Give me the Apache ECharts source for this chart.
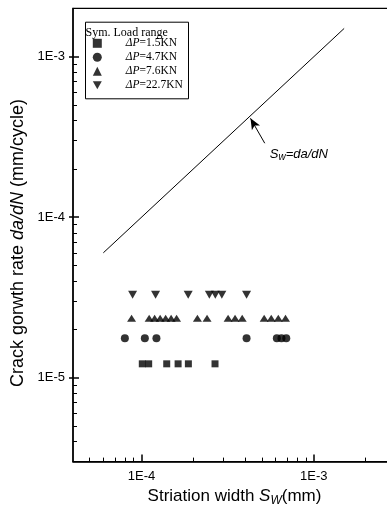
<!DOCTYPE html>
<html><head><meta charset="utf-8">
<script src="https://cdn.jsdelivr.net/npm/echarts@6/dist/echarts.min.js"></script>
<style>html,body{margin:0;padding:0;background:#fff}#c{width:387px;height:515px}</style>
</head><body><div id="c"></div><script>
// axis ranges
const X_MIN = 4e-5, X_MAX = 3e-3, Y_MIN = 3e-6, Y_MAX = 2e-3;
// major ticks and labels
const majorX = [1e-4, 1e-3];
const majorLabelsX = ['1E-4', '1E-3'];
const majorY = [1e-5, 1e-4, 1e-3];
const majorLabelsY = ['1E-5', '1E-4', '1E-3'];
// minor ticks
const minorX = [5e-5, 6e-5, 7e-5, 8e-5, 9e-5, 2e-4, 3e-4, 4e-4, 5e-4, 6e-4, 7e-4, 8e-4, 9e-4, 2e-3];
const minorY = [4e-6, 5e-6, 6e-6, 7e-6, 8e-6, 9e-6, 2e-5, 3e-5, 4e-5, 5e-5, 6e-5, 7e-5, 8e-5, 9e-5,
                2e-4, 3e-4, 4e-4, 5e-4, 6e-4, 7e-4, 8e-4, 9e-4];
// series names
const names = ['ΔP=1.5KN', 'ΔP=4.7KN', 'ΔP=7.6KN', 'ΔP=22.7KN'];
// ΔP = 1.5 kN (squares)
const sqX = [1.01e-4, 1.10e-4, 1.40e-4, 1.63e-4, 1.87e-4, 2.67e-4];
const sqY = [1.22e-5, 1.22e-5, 1.22e-5, 1.22e-5, 1.22e-5, 1.22e-5];
// ΔP = 4.7 kN (circles)
const ciX = [8.0e-5, 1.045e-4, 1.22e-4, 4.07e-4, 6.1e-4, 6.49e-4, 6.92e-4];
const ciY = [1.76e-5, 1.76e-5, 1.76e-5, 1.76e-5, 1.76e-5, 1.76e-5, 1.76e-5];
// ΔP = 7.6 kN (up triangles)
const upX = [8.75e-5, 1.107e-4, 1.191e-4, 1.282e-4, 1.38e-4, 1.485e-4, 1.597e-4, 2.11e-4, 2.40e-4,
             3.18e-4, 3.49e-4, 3.84e-4, 5.15e-4, 5.66e-4, 6.22e-4, 6.85e-4];
const upY = [2.35e-5, 2.35e-5, 2.35e-5, 2.35e-5, 2.35e-5, 2.35e-5, 2.35e-5, 2.35e-5, 2.35e-5,
             2.35e-5, 2.35e-5, 2.35e-5, 2.35e-5, 2.35e-5, 2.35e-5, 2.35e-5];
// ΔP = 22.7 kN (down triangles)
const dnX = [8.87e-5, 1.206e-4, 1.865e-4, 2.475e-4, 2.68e-4, 2.925e-4, 4.07e-4];
const dnY = [3.29e-5, 3.29e-5, 3.29e-5, 3.29e-5, 3.29e-5, 3.29e-5, 3.29e-5];
// reference line Sw = da/dN
const lineX = [6e-5, 1.5e-3];
const lineY = [6e-5, 1.5e-3];
// annotation arrow (tail -> tip) and label anchor
const arrowTail = [5.19e-4, 2.89e-4];
const arrowTip = [4.29e-4, 4.13e-4];
const labelAt = [5.55e-4, 2.48e-4];

const zip = (a, b) => a.map((v, i) => [v, b[i]]);
const SANS = 'Liberation Sans, Arial, sans-serif';
const SERIF = 'Liberation Serif, Times New Roman, serif';
function fmt(vals, labels) {
  return function (v) {
    for (let i = 0; i < vals.length; i++) {
      if (Math.abs(Math.log10(v) - Math.log10(vals[i])) < 1e-6) return labels[i];
    }
    return '';
  };
}
const K = '#000';
const chart = echarts.init(document.getElementById('c'), null, {renderer: 'canvas'});
const scatterBase = {type: 'scatter', itemStyle: {color: K}, xAxisIndex: 0, yAxisIndex: 0, z: 5};
chart.setOption({
  animation: false,
  backgroundColor: '#fff',
  grid: {left: 73, top: 8.4, width: 323, height: 453.2, show: true, borderColor: K, borderWidth: 1.2,
         containLabel: false, outerBoundsMode: 'none'},
  xAxis: [
    {type: 'log', min: X_MIN, max: X_MAX, position: 'bottom',
     axisLine: {lineStyle: {color: K, width: 1.5}},
     axisTick: {inside: true, length: 7, lineStyle: {color: K, width: 1.5}, customValues: majorX},
     axisLabel: {customValues: majorX, formatter: fmt(majorX, majorLabelsX), color: K, fontSize: 13, fontFamily: SANS, margin: 8},
     splitLine: {show: false},
     name: 'Striation width {i|S}{sub|W}(mm)', nameLocation: 'middle', nameGap: 22,
     nameTextStyle: {color: K, fontSize: 17, fontFamily: SANS,
       rich: {i: {fontSize: 17, fontStyle: 'italic', fontFamily: SANS, color: K},
              sub: {fontSize: 12, fontStyle: 'italic', fontFamily: SANS, color: K, padding: [9, 0, 0, 0]}}}},
    {type: 'log', min: X_MIN, max: X_MAX, position: 'bottom',
     axisLine: {show: false},
     axisTick: {inside: true, length: 4, lineStyle: {color: K, width: 1}, customValues: minorX},
     axisLabel: {show: false}, splitLine: {show: false}}
  ],
  yAxis: [
    {type: 'log', min: Y_MIN, max: Y_MAX, position: 'left',
     axisLine: {lineStyle: {color: K, width: 1.5}},
     axisTick: {inside: true, length: 6, lineStyle: {color: K, width: 1.5}, customValues: majorY},
     axisLabel: {customValues: majorY, formatter: fmt(majorY, majorLabelsY), color: K, fontSize: 13, fontFamily: SANS, margin: 8},
     splitLine: {show: false},
     name: 'Crack gorwth rate {i|da/dN} (mm/cycle)', nameLocation: 'middle', nameGap: 44, nameRotate: 90,
     nameTextStyle: {color: K, fontSize: 18, fontFamily: SANS, padding: [0, 16, 0, 0],
       rich: {i: {fontSize: 18, fontStyle: 'italic', fontFamily: SANS, color: K}}}},
    {type: 'log', min: Y_MIN, max: Y_MAX, position: 'left',
     axisLine: {show: false},
     axisTick: {inside: false, length: 4, lineStyle: {color: K, width: 1.5}, customValues: majorY},
     axisLabel: {show: false}, splitLine: {show: false}},
    {type: 'log', min: Y_MIN, max: Y_MAX, position: 'left',
     axisLine: {show: false},
     axisTick: {inside: true, length: 4, lineStyle: {color: K, width: 1}, customValues: minorY},
     axisLabel: {show: false}, splitLine: {show: false}}
  ],
  legend: {
    orient: 'vertical', left: 92.8, top: 36.3, padding: 0, itemGap: 0,
    itemWidth: 9, itemHeight: 9,
    data: names,
    formatter: n => '{sp|}{i|ΔP}{t|' + n.slice(2) + '}',
    textStyle: {color: K, fontSize: 11.5, fontFamily: SERIF, lineHeight: 14,
      rich: {sp: {width: 19}, i: {fontStyle: 'italic', fontSize: 11.5, fontFamily: SERIF, color: K, lineHeight: 14},
             t: {fontSize: 11.5, fontFamily: SERIF, color: K, lineHeight: 14}}}
  },
  graphic: [
    {type: 'rect', left: 83, top: 19.7, shape: {width: 103, height: 76.6}, style: {fill: 'none', stroke: K, lineWidth: 1}, z: 10},
    {type: 'text', left: 85.5, top: 27, style: {text: 'Sym. Load range', font: '12px ' + SERIF, fill: K}, z: 10}
  ],
  series: [
    Object.assign({}, scatterBase, {name: names[0], data: zip(sqX, sqY), symbol: 'rect', symbolSize: 7}),
    Object.assign({}, scatterBase, {name: names[1], data: zip(ciX, ciY), symbol: 'circle', symbolSize: 8}),
    Object.assign({}, scatterBase, {name: names[2], data: zip(upX, upY), symbol: 'triangle', symbolSize: [9, 7]}),
    Object.assign({}, scatterBase, {name: names[3], data: zip(dnX, dnY), symbol: 'path://M0,0L10,0L5,9Z', symbolSize: [9, 8]}),
    {type: 'line', name: 'Sw', data: zip(lineX, lineY), symbol: 'none', lineStyle: {color: K, width: 1},
     xAxisIndex: 0, yAxisIndex: 0, silent: true,
     markLine: {silent: true, symbol: ['none', 'arrow'], symbolSize: [7, 11],
       lineStyle: {color: K, width: 1, type: 'solid'}, label: {show: false},
       data: [[{coord: arrowTail}, {coord: arrowTip}]]},
     markPoint: {silent: true, symbol: 'circle', symbolSize: 0,
       data: [{coord: labelAt}],
       label: {show: true, position: 'right', distance: 0,
         formatter: '{i|S}{sub|w}{i|=da/dN}',
         rich: {i: {fontSize: 13, fontStyle: 'italic', fontFamily: SANS, color: K},
                sub: {fontSize: 10, fontStyle: 'italic', fontFamily: SANS, color: K, padding: [7, 0, 0, 0]}}}}}
  ]
});
</script></body></html>
